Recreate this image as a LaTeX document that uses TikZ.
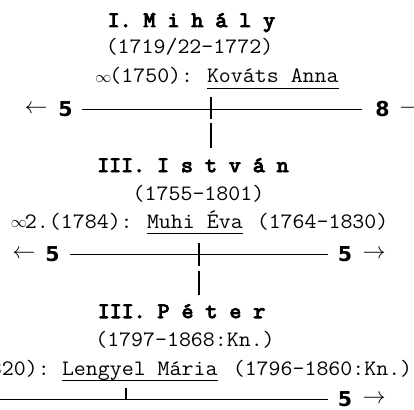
\documentclass[tikz,border=0pt]{standalone}
\usepackage{fontspec}
\newfontfamily\courreg[FakeStretch=1.056]{Latin Modern Mono}
\newfontfamily\courbold[FakeStretch=1.056,FakeBold=4.5]{Latin Modern Mono}
\newfontfamily\numfam{DejaVu Sans}
\newcommand\ctxt{\courreg\fontsize{22pt}{26pt}\selectfont}
\newcommand\cbold{\courbold\fontsize{22pt}{26pt}\selectfont}
\newcommand\cnum{\numfam\bfseries\fontsize{20.5pt}{24pt}\selectfont}
\newcommand\infsym{\makebox[12.2pt]{\raisebox{1pt}{\resizebox{16pt}{7pt}{$\infty$}}}}
\newcommand\larr{\resizebox{23pt}{!}{$\leftarrow$}}
\newcommand\rarr{\resizebox{23pt}{!}{$\rightarrow$}}
\tikzset{
  nm/.style={inner sep=0pt,outer sep=0pt,font=\cbold,anchor=base},
  tx/.style={inner sep=0pt,outer sep=0pt,font=\ctxt},
  num/.style={inner sep=0pt,outer sep=0pt,font=\cnum},
  arr/.style={inner sep=0pt,outer sep=0pt},
  hline/.style={line width=0.8pt},
  tick/.style={line width=1.8pt},
  uline/.style={line width=1.6pt}
}
\begin{document}
\begin{tikzpicture}[x=1pt,y=-1pt]
\path[use as bounding box] (0,0) rectangle (414,409);
\clip (0,0) rectangle (414,409);
% ---------- row 1
\node[nm] (n1) at (191.4,27) {I. M i h á l y};
\node[tx,anchor=base] (d1) at (189.5,54) {(1719/22-1772)};
\node[tx,anchor=base west] (p1) at (97.2,83) {\infsym(1750):};
\node[tx,anchor=base west] (s1) at (207,83) {Kováts Anna};
\draw[uline] ([yshift=-5.5pt]s1.base west) -- ([yshift=-5.5pt]s1.base east);
\node[arr] (la1) at (36,109) {\larr};
\node[num] (l1) at (65.5,109) {5};
\node[num] (r1) at (382.5,109) {8};
\node[arr] (ra1) at (411,109) {\rarr};
\coordinate (h1a) at (82,109);
\coordinate (h1b) at (362,109);
\draw[hline] (h1a) -- (h1b);
\coordinate (v1a) at (210.7,97);
\coordinate (v1b) at (210.7,119);
\coordinate (v1c) at (210.7,123);
\coordinate (v1d) at (210.7,148);
\draw[tick] (v1a) -- (v1b);
\draw[tick] (v1c) -- (v1d);
% ---------- row 2
\node[nm] (n2) at (193,172) {III. I s t v á n};
\node[tx,anchor=base] (d2) at (198.5,200) {(1755-1801)};
\node[tx,anchor=base west] (p2) at (12.8,228) {\infsym2.(1784):};
\node[tx,anchor=base west] (s2) at (147,228) {Muhi Éva};
\node[tx,anchor=base west] (q2) at (256.8,228) {(1764-1830)};
\draw[uline] ([yshift=-5.5pt]s2.base west) -- ([yshift=-5.5pt]s2.base east);
\node[arr] (la2) at (24,254) {\larr};
\node[num] (l2) at (52.5,254) {5};
\node[num] (r2) at (345,254) {5};
\node[arr] (ra2) at (374,254) {\rarr};
\coordinate (h2a) at (70,254);
\coordinate (h2b) at (328,254);
\draw[hline] (h2a) -- (h2b);
\coordinate (v2a) at (199,243);
\coordinate (v2b) at (199,266);
\coordinate (v2c) at (199,271);
\coordinate (v2d) at (199,295);
\draw[tick] (v2a) -- (v2b);
\draw[tick] (v2c) -- (v2d);
% ---------- row 3
\node[nm] (n3) at (181.5,318) {III. P é t e r};
\node[tx,anchor=base] (d3) at (185,346) {(1797-1868:Kn.)};
\node[tx,anchor=base east] (p3) at (49.8,375) {\infsym(1820):};
\node[tx,anchor=base west] (s3) at (62,375) {Lengyel Mária};
\node[tx,anchor=base west] (q3) at (232.8,375) {(1796-1860:Kn.)};
\draw[uline] ([yshift=-5.5pt]s3.base west) -- ([yshift=-5.5pt]s3.base east);
\node[num] (r3) at (345,399) {5};
\node[arr] (ra3) at (374,399) {\rarr};
\coordinate (h3a) at (-2,399);
\coordinate (h3b) at (328,399);
\draw[hline] (h3a) -- (h3b);
\coordinate (v3a) at (125.7,388);
\coordinate (v3b) at (125.7,399);
\draw[tick] (v3a) -- (v3b);
\end{tikzpicture}
\end{document}
